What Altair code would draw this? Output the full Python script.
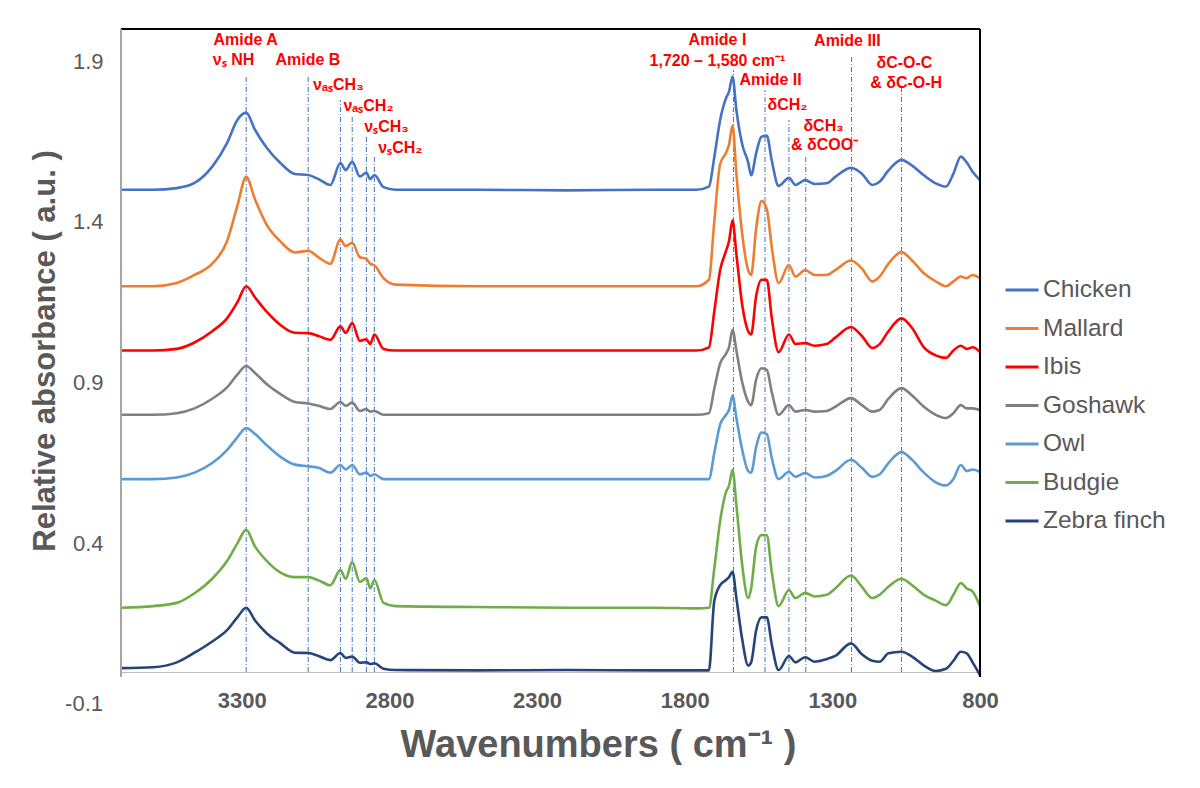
import altair as alt
import pandas as pd

# ---------------- data ----------------
WN = [3709, 3600, 3520, 3460, 3400, 3350, 3315, 3285, 3255, 3215, 3170, 3120, 3075, 3040,
      3000, 2966, 2948, 2926, 2900, 2878, 2865, 2851, 2820, 2780, 2500, 2200, 1900, 1760,
      1718, 1700, 1680, 1660, 1650, 1638, 1625, 1605, 1585, 1575, 1558, 1540, 1522, 1505,
      1482, 1447, 1425, 1392, 1360, 1320, 1290, 1237, 1200, 1165, 1140, 1110, 1066, 1030,
      990, 950, 915, 890, 865, 845, 825, 800]

chicken = [1.50, 1.50, 1.505, 1.521, 1.572, 1.645, 1.717, 1.740, 1.686, 1.630, 1.584, 1.549, 1.546, 1.533,
           1.515, 1.583, 1.561, 1.587, 1.541, 1.553, 1.533, 1.546, 1.508, 1.50, 1.50, 1.498, 1.50, 1.50,
           1.51, 1.60, 1.717, 1.785, 1.805, 1.852, 1.748, 1.64, 1.585, 1.545, 1.614, 1.665, 1.668, 1.59,
           1.512, 1.537, 1.515, 1.53, 1.518, 1.52, 1.54, 1.568, 1.55, 1.515, 1.525, 1.56, 1.593, 1.575,
           1.545, 1.52, 1.51, 1.55, 1.603, 1.585, 1.556, 1.53]
mallard = [1.20, 1.20, 1.21, 1.235, 1.27, 1.34, 1.45, 1.54, 1.47, 1.39, 1.34, 1.305, 1.31, 1.29,
           1.27, 1.345, 1.325, 1.335, 1.29, 1.285, 1.27, 1.265, 1.225, 1.205, 1.20, 1.20, 1.20, 1.20,
           1.22, 1.40, 1.58, 1.615, 1.64, 1.70, 1.55, 1.36, 1.25, 1.235, 1.38, 1.465, 1.44, 1.32,
           1.21, 1.266, 1.23, 1.25, 1.235, 1.235, 1.25, 1.28, 1.255, 1.215, 1.23, 1.27, 1.306, 1.28,
           1.24, 1.215, 1.20, 1.215, 1.23, 1.225, 1.235, 1.225]
ibis = [1.0, 1.0, 1.005, 1.025, 1.06, 1.10, 1.15, 1.20, 1.165, 1.12, 1.08, 1.055, 1.054, 1.045,
        1.033, 1.075, 1.055, 1.085, 1.03, 1.035, 1.02, 1.05, 1.005, 1.0, 1.0, 1.0, 1.0, 1.0,
        1.01, 1.12, 1.25, 1.31, 1.34, 1.405, 1.30, 1.14, 1.06, 1.05, 1.17, 1.22, 1.22, 1.10,
        0.995, 1.05, 1.02, 1.023, 1.015, 1.02, 1.04, 1.073, 1.045, 1.008, 1.02, 1.06, 1.10, 1.07,
        1.01, 0.985, 0.977, 1.0, 1.015, 1.005, 1.01, 0.995]
goshawk = [0.80, 0.80, 0.805, 0.82, 0.85, 0.885, 0.925, 0.952, 0.93, 0.895, 0.865, 0.84, 0.835, 0.828,
           0.818, 0.84, 0.828, 0.838, 0.812, 0.818, 0.81, 0.812, 0.80, 0.80, 0.80, 0.80, 0.80, 0.80,
           0.805, 0.88, 0.96, 0.99, 1.01, 1.064, 1.0, 0.90, 0.84, 0.83, 0.91, 0.945, 0.94, 0.87,
           0.80, 0.83, 0.81, 0.815, 0.81, 0.812, 0.825, 0.852, 0.83, 0.81, 0.815, 0.85, 0.883, 0.86,
           0.825, 0.80, 0.79, 0.805, 0.83, 0.82, 0.82, 0.815]
owl = [0.60, 0.60, 0.605, 0.62, 0.65, 0.69, 0.73, 0.759, 0.74, 0.705, 0.67, 0.645, 0.64, 0.635,
       0.62, 0.644, 0.63, 0.644, 0.615, 0.62, 0.61, 0.615, 0.60, 0.60, 0.60, 0.60, 0.60, 0.60,
       0.60, 0.68, 0.77, 0.80, 0.815, 0.86, 0.79, 0.69, 0.625, 0.62, 0.70, 0.745, 0.74, 0.665,
       0.60, 0.623, 0.607, 0.619, 0.605, 0.61, 0.625, 0.66, 0.635, 0.607, 0.615, 0.65, 0.684, 0.66,
       0.62, 0.59, 0.58, 0.60, 0.644, 0.625, 0.63, 0.622]
budgie = [0.20, 0.205, 0.215, 0.245, 0.29, 0.345, 0.40, 0.442, 0.39, 0.345, 0.31, 0.295, 0.295, 0.285,
          0.27, 0.317, 0.29, 0.342, 0.28, 0.292, 0.26, 0.286, 0.215, 0.205, 0.202, 0.20, 0.20, 0.198,
          0.20, 0.32, 0.47, 0.56, 0.58, 0.628, 0.52, 0.33, 0.23, 0.26, 0.39, 0.426, 0.425, 0.31,
          0.205, 0.255, 0.23, 0.246, 0.235, 0.24, 0.26, 0.30, 0.265, 0.23, 0.24, 0.265, 0.29, 0.27,
          0.24, 0.222, 0.208, 0.24, 0.277, 0.26, 0.25, 0.205]
zebra = [0.012, 0.015, 0.03, 0.06, 0.095, 0.13, 0.17, 0.20, 0.16, 0.12, 0.09, 0.06, 0.059, 0.05,
         0.037, 0.059, 0.044, 0.048, 0.029, 0.03, 0.025, 0.027, 0.01, 0.006, 0.005, 0.006, 0.005, 0.005,
         0.005, 0.22, 0.27, 0.286, 0.295, 0.312, 0.23, 0.10, 0.02, 0.03, 0.13, 0.17, 0.17, 0.085,
         0.006, 0.05, 0.03, 0.046, 0.032, 0.04, 0.05, 0.089, 0.055, 0.035, 0.032, 0.058, 0.063, 0.048,
         0.02, 0.003, 0.01, 0.035, 0.063, 0.058, 0.03, -0.01]

SPECIES = ["Chicken", "Mallard", "Ibis", "Goshawk", "Owl", "Budgie", "Zebra finch"]
COLORS = ["#4472C4", "#ED7D31", "#FF0000", "#808080", "#5B9BD5", "#70AD47", "#264478"]
VALUES = [chicken, mallard, ibis, goshawk, owl, budgie, zebra]

# vertical marker lines (wavenumber, top of line)
RULE_WN = [3285, 3075, 2966, 2926, 2878, 2851, 1635, 1528, 1447, 1390, 1235, 1066]
RULE_TOP = [1.857, 1.852, 1.779, 1.727, 1.665, 1.603, 1.872, 1.81, 1.717, 1.603, 1.914, 1.816]

# band annotations
LABELS = ["Amide A", "\u03bd\u209b NH", "Amide B", "\u03bd\u2090\u209bCH\u2083", "\u03bd\u2090\u209bCH\u2082",
          "\u03bd\u209bCH\u2083", "\u03bd\u209bCH\u2082", "Amide I", "1,720 \u2013 1,580 cm\u207b\u00b9",
          "Amide II", "\u03b4CH\u2082", "\u03b4CH\u2083", "& \u03b4COO\u207b", "Amide III",
          "\u03b4C-O-C", "& \u03b4C-O-H"]
LABEL_WN = [3287, 3328, 3076, 2973, 2871, 2810, 2763, 1689, 1689, 1509, 1452, 1330, 1326, 1249, 1056, 1050]
LABEL_Y = [1.966, 1.904, 1.904, 1.826, 1.760, 1.696, 1.630, 1.966, 1.901, 1.841, 1.764, 1.698, 1.639,
           1.964, 1.895, 1.833]

X_TICKS = [3300, 2800, 2300, 1800, 1300, 800]
Y_TICKS = [0.4, 0.9, 1.4, 1.9]
Y_LOW_LABEL = [-0.1]

# ---------------- build tables ----------------
rows = []
for name, vals in zip(SPECIES, VALUES):
    for i, (w, v) in enumerate(zip(WN, vals)):
        rows.append({"wn": w, "abs": v, "species": name, "order": i})
spec_df = pd.DataFrame(rows)
rule_df = pd.DataFrame({"wn": RULE_WN, "top": RULE_TOP, "base": [0.0] * len(RULE_WN)})
label_df = pd.DataFrame({"text": LABELS, "wn": LABEL_WN, "y": LABEL_Y})
low_df = pd.DataFrame({"v": Y_LOW_LABEL, "t": [f"{v:.1f}" for v in Y_LOW_LABEL]})

W, H = 859, 643
FONT = "Liberation Sans"
GRAY = "#595959"

xscale = alt.Scale(domain=[800, 3709], reverse=True, nice=False, zero=False)
yscale = alt.Scale(domain=[0, 2.0], nice=False, zero=False)

x_axis = alt.Axis(values=X_TICKS, format="d", grid=False, ticks=False, domainColor="#BFBFBF",
                  domainWidth=1.2, labelFont=FONT, labelFontSize=22, labelFontWeight="bold",
                  labelColor=GRAY, labelPadding=28, labelBaseline="middle",
                  title="Wavenumbers ( cm\u207b\u00b9 )", titleFont=FONT, titleFontSize=38,
                  titleFontWeight="bold", titleColor=GRAY, titleX=477, titleY=73,
                  titleBaseline="middle", titleAlign="center", labelFlush=False, labelOverlap=False)
y_axis = alt.Axis(values=Y_TICKS, format=".1f", grid=False, ticks=False, domain=False,
                  labelFont=FONT, labelFontSize=22, labelColor=GRAY, labelPadding=18,
                  labelBaseline="middle", title="Relative absorbance ( a.u. )", titleFont=FONT,
                  titleFontSize=31, titleFontWeight="bold", titleColor=GRAY, titleX=-76,
                  titleY=H / 2, titleBaseline="middle", titleAlign="center", labelFlush=False,
                  labelOverlap=False)

rules = alt.Chart(rule_df).mark_rule(color="#4472C4", strokeWidth=1,
                                      strokeDash=[5, 2, 1, 2]).encode(
    x=alt.X("wn:Q", scale=xscale, axis=x_axis),
    y=alt.Y("base:Q", scale=yscale, axis=y_axis),
    y2="top:Q",
)

lines = alt.Chart(spec_df).mark_line(strokeWidth=2.6, interpolate="monotone").encode(
    x=alt.X("wn:Q", scale=xscale),
    y=alt.Y("abs:Q", scale=yscale),
    color=alt.Color("species:N", scale=alt.Scale(domain=SPECIES, range=COLORS),
                    legend=alt.Legend(title=None, orient="none", legendX=883, legendY=243,
                                      labelFont=FONT, labelFontSize=24.5, labelColor=GRAY,
                                      symbolType="stroke", symbolSize=1089, symbolStrokeWidth=3,
                                      labelOffset=3, rowPadding=8.5)),
    order="order:Q",
)

labels = alt.Chart(label_df).mark_text(font=FONT, fontSize=16, fontWeight="bold",
                                       color="#FF0000", baseline="middle", align="center").encode(
    x=alt.X("wn:Q", scale=xscale),
    y=alt.Y("y:Q", scale=yscale),
    text="text:N",
)

low_label = alt.Chart(low_df).mark_text(font=FONT, fontSize=22, color=GRAY, align="right",
                                        baseline="middle").encode(
    x=alt.value(-18),
    y=alt.Y("v:Q", scale=yscale),
    text="t:N",
)

frame_top = alt.Chart(rule_df).mark_rule(color="#000000", strokeWidth=1.3).encode(
    x=alt.value(0), x2=alt.value(W), y=alt.value(0))
frame_right = alt.Chart(rule_df).mark_rule(color="#000000", strokeWidth=1.3).encode(
    x=alt.value(W), y=alt.value(0), y2=alt.value(H + 5))
frame_left = alt.Chart(rule_df).mark_rule(color="#A6A6A6", strokeWidth=1.2).encode(
    x=alt.value(0), y=alt.value(0), y2=alt.value(H + 5))

chart = alt.layer(rules, lines, labels, low_label, frame_top, frame_right, frame_left).properties(
    width=W, height=H,
    autosize=alt.AutoSizeParams(type="none"),
    padding={"left": 113, "top": 21, "right": 212, "bottom": 108},
).configure_view(stroke=None).configure(font=FONT)

chart.save("out.html", embed_options={"renderer": "svg", "actions": False})
